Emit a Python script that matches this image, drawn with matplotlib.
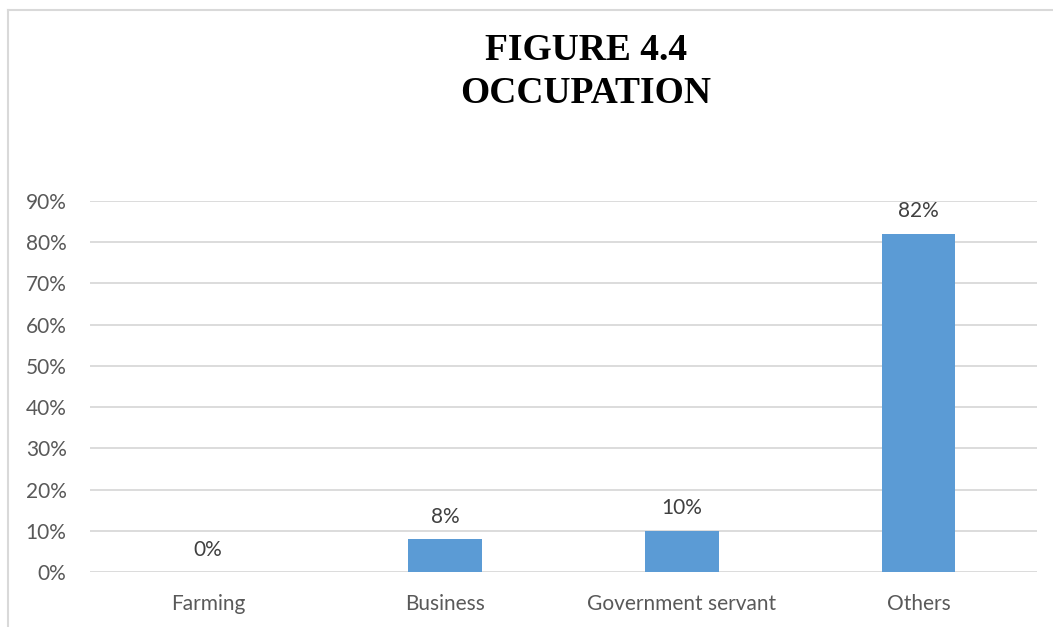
import matplotlib.pyplot as plt
from matplotlib.lines import Line2D

categories = ["Farming", "Business", "Government servant", "Others"]
shares = [0.00, 0.08, 0.10, 0.82]
value_labels = ["0%", "8%", "10%", "82%"]
yticks = [0.0, 0.1, 0.2, 0.3, 0.4, 0.5, 0.6, 0.7, 0.8, 0.9]
ytick_labels = ["0%", "10%", "20%", "30%", "40%", "50%", "60%", "70%", "80%", "90%"]

plt.rcParams['font.family'] = ['Lato', 'DejaVu Sans']

fig = plt.figure(figsize=(10.53, 6.27), dpi=100)
ax = fig.add_axes([0.085, 0.0877, 0.900, 0.5917])

x = range(len(categories))
ax.bar(x, shares, width=0.31, color="#5B9BD5", zorder=3)

for xi, v, lab in zip(x, shares, value_labels):
    ax.annotate(lab, (xi, v), xytext=(0, 9), textcoords="offset points",
                ha="center", va="bottom", fontsize=15, color="#404040")

ax.set_xlim(-0.5, len(categories) - 0.5)
ax.set_ylim(0, 0.9)
ax.set_yticks(yticks)
ax.set_yticklabels(ytick_labels)
ax.set_xticks(list(x))
ax.set_xticklabels(categories)
ax.tick_params(axis="y", length=0, pad=16.5, labelsize=15, labelcolor="#595959")
ax.tick_params(axis="x", length=0, pad=16, labelsize=15, labelcolor="#595959")
ax.grid(axis="y", color="#d9d9d9", linewidth=1.3, zorder=0)
for s in ax.spines.values():
    s.set_visible(False)

# title, two lines
fig.text(0.5565, 0.919, "FIGURE 4.4", ha="center", va="center", fontsize=27,
         fontweight="bold", family="Liberation Serif")
fig.text(0.5565, 0.851, "OCCUPATION", ha="center", va="center", fontsize=27,
         fontweight="bold", family="Liberation Serif")

# outer chart frame (top and left edges)
fig.add_artist(Line2D([8 / 1053, 1.0], [1 - 10 / 627, 1 - 10 / 627],
                      transform=fig.transFigure, color="#d9d9d9", linewidth=1.5))
fig.add_artist(Line2D([8 / 1053, 8 / 1053], [0.0, 1 - 10 / 627],
                      transform=fig.transFigure, color="#d9d9d9", linewidth=1.5))

fig.savefig("out.png", dpi=100)
